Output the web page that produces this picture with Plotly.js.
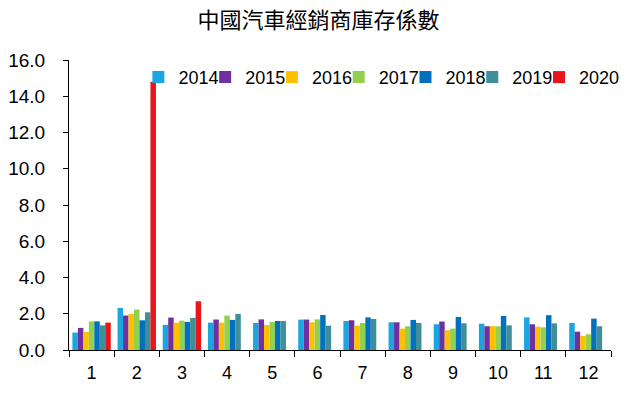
<!DOCTYPE html>
<html><head><meta charset="utf-8">
<script src="https://cdn.plot.ly/plotly-3.0.1.min.js"></script>
<style>html,body{margin:0;padding:0;background:#fff}</style>
</head><body><div id="chart" style="width:637px;height:395px"></div>
<script>
const months = ["1","2","3","4","5","6","7","8","9","10","11","12"];
const years = ["2014","2015","2016","2017","2018","2019","2020"];
const y2014 = [0.96,2.32,1.38,1.51,1.49,1.68,1.60,1.53,1.42,1.45,1.80,1.49];
const y2015 = [1.22,1.90,1.79,1.68,1.69,1.68,1.64,1.53,1.57,1.31,1.42,1.01];
const y2016 = [1.00,1.99,1.51,1.51,1.38,1.53,1.34,1.18,1.09,1.31,1.29,0.77];
const y2017 = [1.58,2.23,1.62,1.90,1.55,1.69,1.49,1.31,1.18,1.31,1.25,0.87];
const y2018 = [1.58,1.64,1.55,1.66,1.60,1.93,1.80,1.66,1.82,1.88,1.92,1.73];
const y2019 = [1.36,2.08,1.77,1.99,1.60,1.34,1.71,1.49,1.47,1.36,1.47,1.31];
const y2020 = [1.51,14.8,2.69,null,null,null,null,null,null,null,null,null];
const series = [y2014,y2015,y2016,y2017,y2018,y2019,y2020];
const colors = ["#1aa7e0","#7030a0","#ffc000","#92d050","#0070c0","#3f8f98","#e8161b"];

const legendId = i => i === 0 ? "legend" : "legend" + (i+1);

const traces = series.map((s,i)=>({
  type:"bar", name:years[i], x:months, y:s,
  marker:{color:colors[i], line:{width:0}},
  legend: legendId(i)
}));

const layout = {
  width:637, height:395,
  margin:{l:69, r:24, t:60, b:45},
  paper_bgcolor:"#fff", plot_bgcolor:"#fff",
  font:{family:"Liberation Sans, Arial, sans-serif", color:"#000", size:18},
  title:{text:"中國汽車經銷商庫存係數", x:0.5, xanchor:"center", y:0.948, yanchor:"middle",
         font:{family:"Noto Sans CJK TC, sans-serif", size:22, color:"#000"}},
  barmode:"group", bargap:0.15, bargroupgap:0,
  xaxis:{type:"category", tickson:"boundaries", ticks:"outside", ticklen:6, tickcolor:"#000",
         showline:true, linecolor:"#000", linewidth:1, showgrid:false, ticklabelstandoff:6,
         tickfont:{size:18, color:"#000"}},
  yaxis:{range:[0,16], dtick:2, tickformat:".1f", ticks:"outside", ticklen:5, tickcolor:"#000",
         showline:true, linecolor:"#000", linewidth:1, showgrid:false, zeroline:false,
         ticklabelstandoff:14, tickfont:{size:19, color:"#000"}},
  showlegend:true
};
series.forEach((s,i)=>{
  layout[legendId(i)] = {orientation:"h", yanchor:"middle", y:0.94, xanchor:"left",
    x:0.128 + i*0.1232,
    font:{size:18, color:"#000"}, itemwidth:30, bgcolor:"rgba(0,0,0,0)"};
});
Plotly.newPlot("chart", traces, layout, {displayModeBar:false, staticPlot:true});
</script></body></html>
